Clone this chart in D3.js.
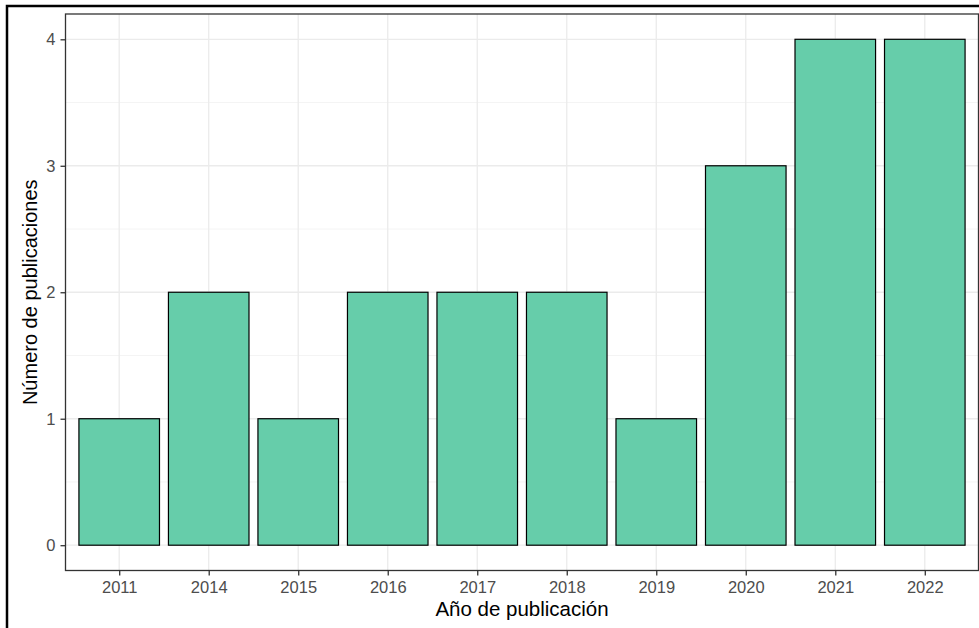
<!DOCTYPE html>
<html>
<head>
<meta charset="utf-8">
<script src="https://cdn.jsdelivr.net/npm/d3@7"></script>
<style>
  body { margin: 0; background: #fff; }
  text { font-family: "Liberation Sans", Arial, sans-serif; }
</style>
</head>
<body>
<svg id="chart"></svg>
<script>
const years = ["2011", "2014", "2015", "2016", "2017", "2018", "2019", "2020", "2021", "2022"];
const counts = [1, 2, 1, 2, 2, 2, 1, 3, 4, 4];
const yTicks = [0, 1, 2, 3, 4];

const W = 979, H = 628;
const panel = { left: 65.5, right: 978.5, top: 14, bottom: 570.5 };

const svg = d3.select("#chart")
    .attr("width", W)
    .attr("height", H);

// outer frame (cut on right and bottom)
svg.append("path")
    .attr("d", `M7,${H} L7,6 L${W},6`)
    .attr("fill", "none")
    .attr("stroke", "#000")
    .attr("stroke-width", 2.5);

const data = years.map((y, i) => ({ year: y, n: counts[i] }));

// discrete scale with ggplot expansion of 0.6 units each side
const step = (panel.right - panel.left) / (years.length - 1 + 1.2);
const x = d3.scalePoint()
    .domain(years)
    .range([panel.left + 0.6 * step, panel.right - 0.6 * step]);

const y = d3.scaleLinear()
    .domain([-0.2, 4.2])
    .range([panel.bottom, panel.top]);

// grid
const minor = d3.range(0.5, 4, 1);
svg.append("g").selectAll("line")
    .data(minor)
    .join("line")
    .attr("x1", panel.left).attr("x2", panel.right)
    .attr("y1", d => y(d)).attr("y2", d => y(d))
    .attr("stroke", "#f4f4f4").attr("stroke-width", 1);

svg.append("g").selectAll("line")
    .data(yTicks)
    .join("line")
    .attr("x1", panel.left).attr("x2", panel.right)
    .attr("y1", d => y(d)).attr("y2", d => y(d))
    .attr("stroke", "#ebebeb").attr("stroke-width", 1.3);

svg.append("g").selectAll("line")
    .data(years)
    .join("line")
    .attr("x1", d => x(d)).attr("x2", d => x(d))
    .attr("y1", panel.top).attr("y2", panel.bottom)
    .attr("stroke", "#ebebeb").attr("stroke-width", 1.3);

// bars
const bw = step * 0.9;
svg.append("g").selectAll("rect")
    .data(data)
    .join("rect")
    .attr("x", d => x(d.year) - bw / 2)
    .attr("y", d => y(d.n))
    .attr("width", bw)
    .attr("height", d => y(0) - y(d.n))
    .attr("fill", "#66cdaa")
    .attr("stroke", "#000")
    .attr("stroke-width", 1.2);

// panel border
svg.append("rect")
    .attr("x", panel.left).attr("y", panel.top)
    .attr("width", panel.right - panel.left)
    .attr("height", panel.bottom - panel.top)
    .attr("fill", "none")
    .attr("stroke", "#333")
    .attr("stroke-width", 1.3);

// axes
const xAxis = svg.append("g")
    .attr("transform", `translate(0, ${panel.bottom})`)
    .call(d3.axisBottom(x).tickSize(5).tickPadding(6));
const yAxis = svg.append("g")
    .attr("transform", `translate(${panel.left}, 0)`)
    .call(d3.axisLeft(y).tickValues(yTicks).tickFormat(d3.format("d")).tickSize(5).tickPadding(5));

[xAxis, yAxis].forEach(g => {
    g.attr("font-size", null).attr("font-family", null);
    g.select(".domain").remove();
    g.selectAll(".tick line").attr("stroke", "#333").attr("stroke-width", 1.3);
    g.selectAll(".tick text")
        .attr("fill", "#4d4d4d")
        .attr("font-size", 16.5)
        .attr("font-family", "Liberation Sans, Arial, sans-serif");
});

// axis titles
svg.append("text")
    .attr("x", (panel.left + panel.right) / 2)
    .attr("y", 616)
    .attr("text-anchor", "middle")
    .attr("font-size", 20.5)
    .attr("fill", "#000")
    .text("Año de publicación");

svg.append("text")
    .attr("transform", `translate(37, ${(panel.top + panel.bottom) / 2}) rotate(-90)`)
    .attr("text-anchor", "middle")
    .attr("font-size", 20)
    .attr("fill", "#000")
    .text("Número de publicaciones");
</script>
</body>
</html>
